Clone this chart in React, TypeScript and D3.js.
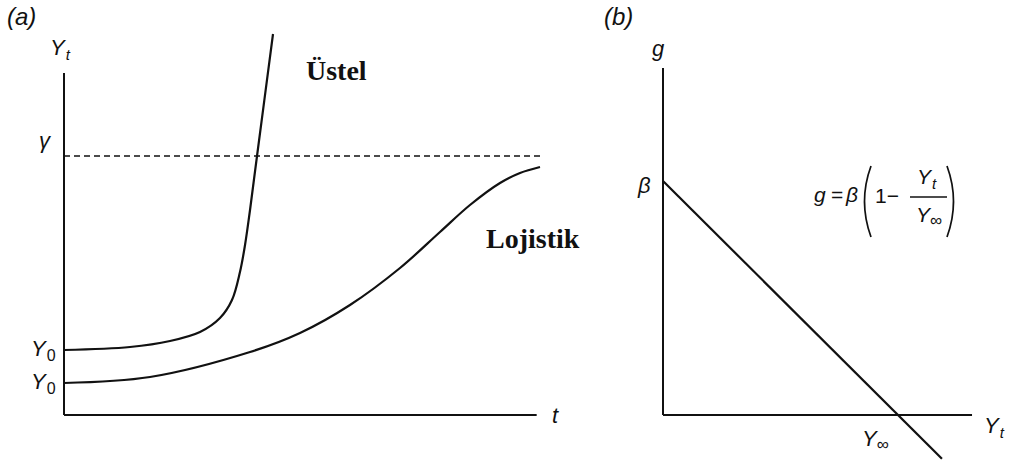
import React from "react";
import * as d3 from "d3";

// Panel (a): growth paths over time, Y measured so that the ceiling γ = 10
const gammaLevel = 10;
const tMax = 10;
const expT = [0, 1.387, 2.227, 2.857, 3.277, 3.529, 3.697, 3.803, 3.908, 4.055, 4.391];
const expY = [2.51, 2.625, 2.857, 3.205, 3.745, 4.44, 5.521, 6.564, 7.915, 10, 14.71];
const logT = [0, 1.807, 3.908, 4.958, 6.008, 7.059, 7.899, 8.529, 9.16, 9.58, 10];
const logY = [1.236, 1.467, 2.432, 3.166, 4.247, 5.676, 7.066, 8.108, 8.958, 9.344, 9.575];
const axisATop = 13.2;
const axisARight = 9.93;

// Panel (b): growth rate falls linearly with size, β = 1, Y∞ = 1
const beta = 1;
const yInf = 1;
const lineYt = [0, 1.187];
const axisBTop = 1.483;
const axisBRight = 1.315;

const ink = "#111";
const sans = "'Liberation Sans', Arial, sans-serif";
const serif = "'Liberation Serif', 'Times New Roman', serif";

export default function App() {
  const xA = d3.scaleLinear().domain([0, tMax]).range([64, 540]);
  const yA = d3.scaleLinear().domain([0, gammaLevel]).range([415, 156]);
  const xB = d3.scaleLinear().domain([0, yInf]).range([663, 898]);
  const yB = d3.scaleLinear().domain([0, beta]).range([415, 181]);

  const lineA = d3
    .line<[number, number]>()
    .x((d) => xA(d[0]))
    .y((d) => yA(d[1]))
    .curve(d3.curveCatmullRom.alpha(0.5));

  const expPath = lineA(expT.map((t, i) => [t, expY[i]]));
  const logPath = lineA(logT.map((t, i) => [t, logY[i]]));

  const gOf = (y: number) => beta * (1 - y / yInf);
  const lineB = d3
    .line<number>()
    .x((d) => xB(d))
    .y((d) => yB(gOf(d)));

  const labelStyle = { fontFamily: sans, fontStyle: "italic", fontSize: 22, fill: ink } as const;
  const sub = 15;

  // tall thin parentheses around the formula body
  const paren = (x: number, top: number, bottom: number, bulge: number) =>
    `M${x},${top} Q${x + bulge},${(top + bottom) / 2} ${x},${bottom}`;

  return (
    <svg
      width={1010}
      height={465}
      style={{ position: "absolute", left: 0, top: 0, background: "#fff" }}
    >
      {/* ---------- panel (a) ---------- */}
      <text x={7} y={25} {...labelStyle} fontSize={24}>
        (a)
      </text>
      <line x1={xA(0)} y1={yA(0)} x2={xA(0)} y2={yA(axisATop)} stroke={ink} strokeWidth={2} />
      <line x1={xA(0)} y1={yA(0)} x2={xA(axisARight)} y2={yA(0)} stroke={ink} strokeWidth={2} />
      <line
        x1={xA(0)}
        y1={yA(gammaLevel)}
        x2={xA(tMax)}
        y2={yA(gammaLevel)}
        stroke={ink}
        strokeWidth={1.4}
        strokeDasharray="6 4"
      />
      <path d={expPath ?? ""} fill="none" stroke={ink} strokeWidth={2.2} />
      <path d={logPath ?? ""} fill="none" stroke={ink} strokeWidth={2.2} />

      <text x={50} y={55} {...labelStyle}>
        Y<tspan fontSize={sub} dy={5} dx={1}>t</tspan>
      </text>
      <text x={39} y={148} {...labelStyle}>
        γ
      </text>
      <text x={31} y={yA(expY[0]) + 6} {...labelStyle}>
        Y<tspan fontSize={sub + 1} fontStyle="normal" dy={5} dx={1}>0</tspan>
      </text>
      <text x={31} y={yA(logY[0]) + 6} {...labelStyle}>
        Y<tspan fontSize={sub + 1} fontStyle="normal" dy={5} dx={1}>0</tspan>
      </text>
      <text x={552} y={423} {...labelStyle}>
        t
      </text>
      <text x={306} y={80} fontFamily={serif} fontWeight="bold" fontSize={28} fill={ink}>
        Üstel
      </text>
      <text x={486} y={248} fontFamily={serif} fontWeight="bold" fontSize={28} fill={ink}>
        Lojistik
      </text>

      {/* ---------- panel (b) ---------- */}
      <text x={604} y={25} {...labelStyle} fontSize={24}>
        (b)
      </text>
      <line x1={xB(0)} y1={yB(0)} x2={xB(0)} y2={yB(axisBTop)} stroke={ink} strokeWidth={2} />
      <line x1={xB(0)} y1={yB(0)} x2={xB(axisBRight)} y2={yB(0)} stroke={ink} strokeWidth={2} />
      <path d={lineB(lineYt) ?? ""} fill="none" stroke={ink} strokeWidth={2.2} />

      <text x={652} y={56} {...labelStyle}>
        g
      </text>
      <text x={638} y={193} {...labelStyle}>
        β
      </text>
      <text x={984} y={433} {...labelStyle}>
        Y<tspan fontSize={sub} dy={5} dx={1}>t</tspan>
      </text>
      <text x={862} y={446} {...labelStyle}>
        Y<tspan fontSize={sub + 2} fontStyle="normal" dy={4} dx={0}>∞</tspan>
      </text>

      {/* growth-rate formula */}
      <g fontFamily={sans} fontSize={21} fill={ink}>
        <text x={814} y={202} fontStyle="italic">g</text>
        <text x={831} y={202}>=</text>
        <text x={846} y={202} fontStyle="italic">β</text>
        <path d={paren(871, 166, 237, -13)} fill="none" stroke={ink} strokeWidth={1.7} />
        <text x={875} y={203}>1−</text>
        <text x={917} y={184} fontStyle="italic">
          Y<tspan fontSize={sub} dy={5} dx={1}>t</tspan>
        </text>
        <line x1={910} y1={197} x2={947} y2={197} stroke={ink} strokeWidth={1.5} />
        <text x={916} y={222} fontStyle="italic">
          Y<tspan fontSize={sub + 2} fontStyle="normal" dy={4} dx={0}>∞</tspan>
        </text>
        <path d={paren(947, 166, 237, 13)} fill="none" stroke={ink} strokeWidth={1.7} />
      </g>
    </svg>
  );
}
